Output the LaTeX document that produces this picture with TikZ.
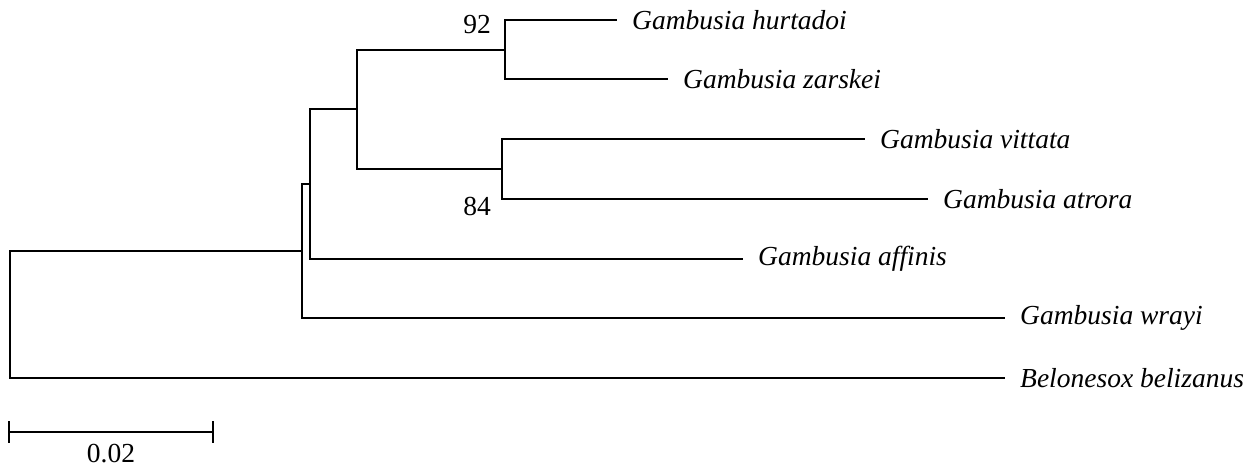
\documentclass[tikz,border=0pt]{standalone}
\usepackage{fontspec}
\setmainfont{Liberation Serif}

\tikzset{
    branch/.style={line width=2pt, black},
    taxon/.style={anchor=west, inner xsep=15pt, inner ysep=0pt,
        font=\fontsize{27.5}{32}\selectfont\itshape},
    boot/.style={inner sep=0pt, font=\fontsize{27.5}{32}\selectfont},
}

\begin{document}
\begin{tikzpicture}[x=1pt,y=-1pt]

    % Fix the page to the size of the reference
    \useasboundingbox (0,0) rectangle (1257,468);

    % Internal nodes of the tree
    \coordinate (nRoot) at (10,314);
    \coordinate (nA) at (302,251);
    \coordinate (nB) at (310,184);
    \coordinate (nC) at (357,109);
    \coordinate (nD) at (505,50);
    \coordinate (nE) at (502,169);

    % Taxa at the tips
    \node[taxon] (hurtadoi) at (617,20) {Gambusia hurtadoi};
    \node[taxon] (zarskei) at (668,79) {Gambusia zarskei};
    \node[taxon] (vittata) at (865,139) {Gambusia vittata};
    \node[taxon] (atrora) at (928,199) {Gambusia atrora};
    \node[taxon] (affinis) at (743,259) {Gambusia affinis};
    \node[taxon] (wrayi) at (1005,318) {Gambusia wrayi};
    \node[taxon] (belizanus) at (1005,378) {Belonesox belizanus};

    % Branches
    \draw[branch] (nRoot) |- (nA);
    \draw[branch] (nRoot) |- (belizanus.west);
    \draw[branch] (nA) |- (nB);
    \draw[branch] (nA) |- (wrayi.west);
    \draw[branch] (nB) |- (nC);
    \draw[branch] (nB) |- (affinis.west);
    \draw[branch] (nC) |- (nD);
    \draw[branch] (nC) |- (nE);
    \draw[branch] (nD) |- (hurtadoi.west);
    \draw[branch] (nD) |- (zarskei.west);
    \draw[branch] (nE) |- (vittata.west);
    \draw[branch] (nE) |- (atrora.west);

    % Bootstrap values
    \node[boot] (boot92) at (477,25) {92};
    \node[boot] (boot84) at (477,206) {84};

    % Scale bar
    \coordinate (sbL) at (9,432);
    \coordinate (sbR) at (213,432);
    \draw[branch] (sbL) -- (sbR);
    \draw[branch] (sbL) ++(0,-11) -- ++(0,22);
    \draw[branch] (sbR) ++(0,-11) -- ++(0,22);
    \node[boot] (sbLabel) at (111,454) {0.02};

\end{tikzpicture}
\end{document}
